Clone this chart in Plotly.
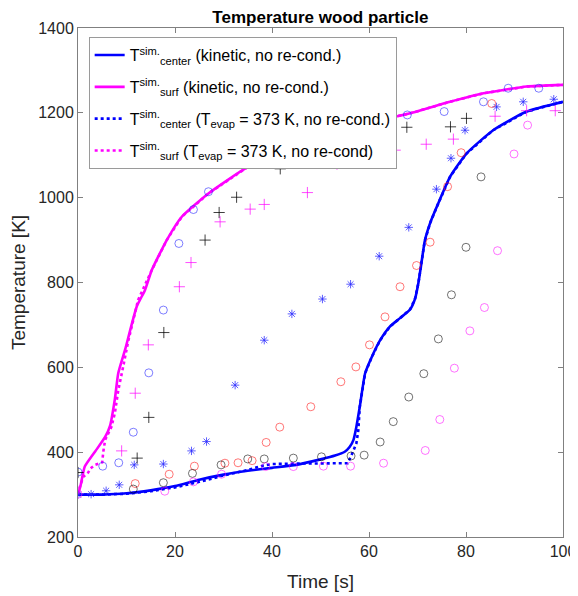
import plotly.graph_objects as go

# ---- simulation curves ----
center_kin_t = [0, 5, 10, 15, 20, 25, 30, 35, 40, 45, 50, 53, 55, 56, 56.8, 57.4, 58.1, 59.2, 60.6, 62.3, 64.3, 66.4, 68.5, 69.5, 70.2, 70.9, 71.5, 72.6, 74.0, 76.7, 80.1, 85.6, 92.5, 100]
center_kin_T = [300, 300, 303, 310, 320, 335, 347, 356, 363, 370, 383, 392, 401, 412, 429, 460, 507, 586, 625, 664, 696, 716, 737, 762, 800, 853, 898, 940, 979, 1049, 1104, 1159, 1203, 1226]

surf_kin_t = [0, 0.5, 1.4, 3.5, 5.6, 6.6, 7.6, 8.3, 9.7, 12.1, 13.8, 15.2, 18.3, 21.4, 26.9, 35.1, 40, 45, 50, 55, 60.9, 68.5, 76.7, 83.6, 92.5, 100]
surf_kin_T = [300, 320, 366, 401, 436, 462, 525, 586, 641, 743, 782, 829, 900, 955, 1010, 1073, 1097, 1118, 1138, 1158, 1179, 1199, 1226, 1246, 1262, 1266]

center_evap_t = [0, 5, 10, 15, 20, 25, 30, 35, 38, 40, 45, 50, 55.6, 56.4, 57.4, 57.8, 58.1, 59.2, 60.6, 62.3, 64.3, 66.4, 68.5, 69.5, 70.2, 70.9, 71.5, 72.6, 74.0, 76.7, 80.1, 85.6, 92.5, 100]
center_evap_T = [300, 300, 302, 308, 317, 330, 345, 358, 368, 372, 373, 374, 374, 393, 421, 452, 507, 586, 625, 664, 696, 716, 737, 762, 800, 853, 898, 940, 979, 1049, 1104, 1159, 1203, 1226]

surf_evap_t = [0, 0.4, 1.1, 2.1, 2.6, 3.5, 5.0, 5.2, 5.6, 6.9, 7.6, 8.3, 9.3, 10.4, 12.4, 15.2, 18.3, 21.4, 26.9, 35.1, 40, 45, 50, 55, 60.9, 68.5, 76.7, 83.6, 92.5, 100]
surf_evap_T = [300, 319, 342, 352, 362, 370, 376, 400, 429, 460, 492, 546, 601, 664, 759, 829, 900, 955, 1010, 1073, 1097, 1118, 1138, 1158, 1179, 1199, 1226, 1246, 1262, 1266]

# ---- measured points ----
blue_circ_t = [0, 5.1, 8.4, 11.4, 14.6, 17.6, 20.8, 23.8, 26.9, 61.6, 67.9, 75.5, 83.6, 88.7, 95.0]
blue_circ_T = [353, 367, 375, 447, 587, 735, 892, 972, 1014, 1191, 1195, 1203, 1226, 1258, 1258]

blue_star_t = [0, 2.7, 5.8, 8.5, 11.6, 17.6, 23.4, 26.5, 32.4, 38.4, 44.1, 50.4, 56.2, 62.1, 68.2, 73.9, 76.9, 79.8, 86.3, 91.8, 98.1]
blue_star_T = [300, 301, 309, 323, 370, 372, 403, 425, 558, 664, 726, 761, 796, 862, 930, 1020, 1093, 1159, 1214, 1226, 1232]

black_plus_t = [0, 12.2, 14.6, 17.7, 26.2, 29.1, 32.7, 41.7, 67.8, 76.8, 80.1]
black_plus_T = [352, 386, 482, 682, 900, 965, 1001, 1068, 1166, 1167, 1187]

mag_plus_t = [9.0, 11.8, 14.5, 20.9, 23.3, 29.3, 35.5, 38.4, 47.3, 53.4, 65.4, 71.8, 77.4, 86.0, 92.5, 98.4]
mag_plus_T = [403, 539, 653, 790, 847, 943, 973, 984, 1012, 1079, 1112, 1126, 1138, 1192, 1205, 1205]

red_circ_t = [11.8, 18.8, 24.0, 30.3, 33.0, 35.9, 38.8, 41.6, 48.0, 54.2, 57.3, 60.1, 63.3, 66.4, 69.8, 72.6, 76.2, 79.0, 85.3]
red_circ_T = [326, 348, 367, 374, 375, 380, 423, 459, 507, 566, 601, 653, 719, 790, 840, 895, 1026, 1106, 1222]

black_circ_t = [11.4, 17.6, 23.6, 29.5, 35.0, 38.4, 44.4, 50.2, 56.3, 59.0, 62.3, 65.0, 68.2, 71.3, 74.3, 77.0, 80.0, 83.1]
black_circ_T = [313, 328, 350, 370, 384, 384, 386, 389, 391, 393, 424, 472, 530, 585, 667, 771, 883, 1049]

mag_circ_t = [0, 17.9, 23.8, 29.6, 38.7, 44.4, 50.6, 56.2, 63.0, 71.6, 74.6, 77.6, 80.8, 83.8, 86.5, 89.9, 92.7]
mag_circ_T = [301, 308, 330, 348, 366, 366, 367, 367, 374, 404, 477, 598, 686, 741, 875, 1103, 1171]

legend_names = [
    "T<sup>sim.</sup><sub>center</sub> (kinetic, no re-cond.)",
    "T<sup>sim.</sup><sub>surf</sub> (kinetic, no re-cond.)",
    "T<sup>sim.</sup><sub>center</sub> (T<sub>evap</sub> = 373 K, no re-cond.)",
    "T<sup>sim.</sup><sub>surf</sub> (T<sub>evap</sub> = 373 K, no re-cond)",
]

BLUE = "#0000ff"
MAG = "#ff00ff"

fig = go.Figure()

fig.add_trace(go.Scatter(x=center_kin_t, y=center_kin_T, mode="lines", name=legend_names[0], legendgroup="a",
                         line=dict(color=BLUE, width=2.6, shape="spline", smoothing=0.5)))
fig.add_trace(go.Scatter(x=surf_kin_t, y=surf_kin_T, mode="lines", name=legend_names[1], legendgroup="b",
                         line=dict(color=MAG, width=2.6, shape="spline", smoothing=0.5)))
fig.add_trace(go.Scatter(x=center_evap_t, y=center_evap_T, mode="lines", name=legend_names[2], legendgroup="c",
                         line=dict(color=BLUE, width=2.6, dash="dot")))
fig.add_trace(go.Scatter(x=surf_evap_t, y=surf_evap_T, mode="lines", name=legend_names[3], legendgroup="d",
                         line=dict(color=MAG, width=2.6, dash="dot")))

def pts(x, y, symbol, color, size):
    fig.add_trace(go.Scatter(x=x, y=y, mode="markers", showlegend=False, hoverinfo="x+y",
                             marker=dict(symbol=symbol, size=size, color=color,
                                         line=dict(color=color, width=1))))

pts(blue_circ_t, blue_circ_T, "circle-open", "rgba(40,40,255,0.6)", 8)
pts(blue_star_t, blue_star_T, "asterisk-open", "rgba(40,40,255,0.75)", 7)
pts(black_plus_t, black_plus_T, "cross-thin-open", "rgba(0,0,0,0.75)", 8)
pts(mag_plus_t, mag_plus_T, "cross-thin-open", "rgba(255,0,255,0.7)", 8)
pts(red_circ_t, red_circ_T, "circle-open", "rgba(255,30,30,0.6)", 8)
pts(black_circ_t, black_circ_T, "circle-open", "rgba(0,0,0,0.55)", 8)
pts(mag_circ_t, mag_circ_T, "circle-open", "rgba(255,0,255,0.55)", 8)

axis_common = dict(showgrid=False, zeroline=False, showline=True, linecolor="#808080", linewidth=1,
                   mirror="ticks", ticks="inside", ticklen=5, tickcolor="#808080", automargin=False,
                   tickfont=dict(size=16, color="#262626"))

# the page body adds an 8 px offset, so the figure is 570 x 588
fig.update_layout(
    width=570, height=588,
    margin=dict(l=70, r=15, t=20, b=59),
    paper_bgcolor="white", plot_bgcolor="white",
    font=dict(family="Liberation Sans, Arial, sans-serif", color="#262626"),
    title=dict(text="<b>Temperature wood particle</b>", x=0.548, xanchor="center",
               y=0.994, yanchor="top", font=dict(size=17, color="black")),
    xaxis=dict(range=[0, 100], tickvals=[0, 20, 40, 60, 80, 100],
               title=dict(text="Time [s]", font=dict(size=19, color="#262626")),
               **axis_common),
    yaxis=dict(range=[200, 1400], tickvals=[200, 400, 600, 800, 1000, 1200, 1400],
               title=dict(text="Temperature [K]", font=dict(size=19, color="#262626")),
               **axis_common),
    legend=dict(x=0.022, y=0.982, xanchor="left", yanchor="top", bgcolor="white",
                bordercolor="#9a9a9a", borderwidth=1, font=dict(size=16, color="black"),
                itemwidth=30, traceorder="grouped", tracegroupgap=8),
    showlegend=True,
)

fig.write_html("out.html")
